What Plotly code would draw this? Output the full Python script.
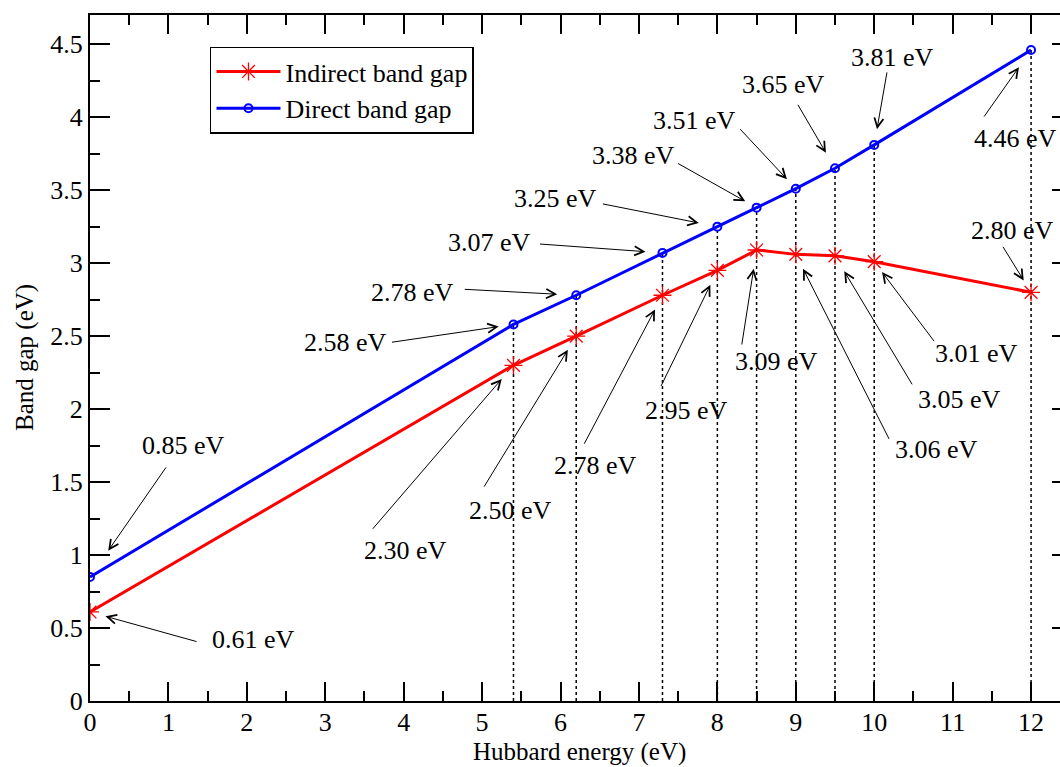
import plotly.graph_objects as go

# ---------------- data ----------------
U = [0, 5.4, 6.2, 7.3, 8, 8.5, 9, 9.5, 10, 12]
indirect_gap = [0.61, 2.30, 2.50, 2.78, 2.95, 3.09, 3.06, 3.05, 3.01, 2.80]
direct_gap = [0.85, 2.58, 2.78, 3.07, 3.25, 3.38, 3.51, 3.65, 3.81, 4.46]
x_ticks = list(range(0, 13))
y_ticks = [0, 0.5, 1, 1.5, 2, 2.5, 3, 3.5, 4, 4.5]

# label layout (pixels): arrow tail dx, dy, standoff, text dx, dy  (dy positive = down)
indirect_label_pos = [
    (108, 30, 16, 163, 28),
    (-142, 165, 18, -108, 185),
    (-93, 152, 16, -66, 174),
    (-79, 150, 16, -67, 170),
    (-57, 117, 16, -31, 140),
    (-15, 96, 19, 20, 112),
    (94, 186, 16, 141, 195),
    (78, 130, 18, 124, 144),
    (61, 81, 13, 102, 92),
    (-29, -47, 14, -19, -62),
]
direct_label_pos = [
    (77, -111, 32, 93, -131),
    (-123, 18, 15, -168, 18),
    (-113, -6, 19, -164, -3),
    (-124, -9, 17, -173, -10),
    (-116, -23, 19, -162, -28),
    (-80, -45, 13, -123, -52),
    (-57, -61, 13, -101, -68),
    (-38, -65, 18, -52, -84),
    (13, -74, 16, 18, -87),
    (-48, 68, 21, -16, 88),
]

FONT = "Liberation Serif"
FS = 26

fig = go.Figure()

# dotted drop lines from the axis up to the direct gap points (skip U=0)
dx, dy = [], []
for u, d in zip(U[1:], direct_gap[1:]):
    dx += [u, u, None]
    dy += [0, d, None]
fig.add_trace(go.Scatter(x=dx, y=dy, mode="lines", showlegend=False, hoverinfo="skip",
                         line=dict(color="black", width=1.5, dash="dot")))

fig.add_trace(go.Scatter(x=U, y=indirect_gap, mode="lines+markers", name="Indirect band gap",
                         line=dict(color="#ff0000", width=3),
                         marker=dict(symbol="asterisk-open", size=15, color="#ff0000",
                                     line=dict(color="#ff0000", width=1.3))))
fig.add_trace(go.Scatter(x=U, y=direct_gap, mode="lines+markers", name="Direct band gap",
                         line=dict(color="#0000ff", width=3),
                         marker=dict(symbol="circle-open", size=8, color="#0000ff",
                                     line=dict(color="#0000ff", width=2))))
# invisible helper for the right-side tick axis
fig.add_trace(go.Scatter(x=U, y=direct_gap, mode="markers", yaxis="y2", showlegend=False,
                         hoverinfo="skip", marker=dict(opacity=0)))

annotations = []
for series, pos in ((indirect_gap, indirect_label_pos), (direct_gap, direct_label_pos)):
    for u, v, (ax, ay, so, tx, ty) in zip(U, series, pos):
        annotations.append(dict(x=u, y=v, xref="x", yref="y", text="", showarrow=True,
                                ax=ax, ay=ay, standoff=so, arrowhead=5, arrowsize=1.8,
                                arrowwidth=1, arrowcolor="black"))
        annotations.append(dict(x=u, y=v, xref="x", yref="y", text=f"{v:.2f} eV",
                                showarrow=False, xshift=tx, yshift=-ty,
                                font=dict(family=FONT, size=FS, color="black")))

annotations.append(dict(x=0.505, y=0, xref="paper", yref="paper", text="Hubbard energy (eV)",
                        showarrow=False, yshift=-51, yanchor="middle",
                        font=dict(family=FONT, size=25, color="black")))
annotations.append(dict(x=0, y=0.5, xref="paper", yref="paper", text="Band gap (eV)",
                        showarrow=False, xshift=-65, textangle=-90, xanchor="center",
                        font=dict(family=FONT, size=25, color="black")))

fig.update_layout(
    width=1060, height=767,
    margin=dict(l=90, r=0, t=15, b=66),
    paper_bgcolor="white", plot_bgcolor="white",
    font=dict(family=FONT, size=FS, color="black"),
    annotations=annotations,
    showlegend=True,
    legend=dict(x=0.1237, y=0.954, xanchor="left", yanchor="top",
                bordercolor="black", borderwidth=1.5, bgcolor="white",
                font=dict(family=FONT, size=FS, color="black"), itemwidth=64),
    xaxis=dict(range=[0, 12.369], tickvals=x_ticks, ticks="inside", ticklen=19, tickwidth=1.5,
               tickcolor="black", showline=True, linecolor="black", linewidth=2,
               mirror="ticks", showgrid=False, zeroline=False, ticklabelstandoff=-3,
               minor=dict(dtick=0.5, ticks="inside", ticklen=10, tickwidth=1.5, tickcolor="black"),
               tickfont=dict(family=FONT, size=FS, color="black")),
    yaxis=dict(range=[0, 4.7], tickvals=y_ticks, ticks="inside", ticklen=20, tickwidth=1.5,
               tickcolor="black", showline=True, linecolor="black", linewidth=2,
               showgrid=False, zeroline=False,
               minor=dict(dtick=0.25, ticks="inside", ticklen=10, tickwidth=1.5, tickcolor="black"),
               tickfont=dict(family=FONT, size=FS, color="black")),
    yaxis2=dict(range=[0, 4.7], overlaying="y", side="right", tickvals=y_ticks,
                ticks="inside", ticklen=8, tickwidth=1.5, tickcolor="black",
                showticklabels=False, showline=False, showgrid=False, zeroline=False),
)

fig.write_html("out.html")
